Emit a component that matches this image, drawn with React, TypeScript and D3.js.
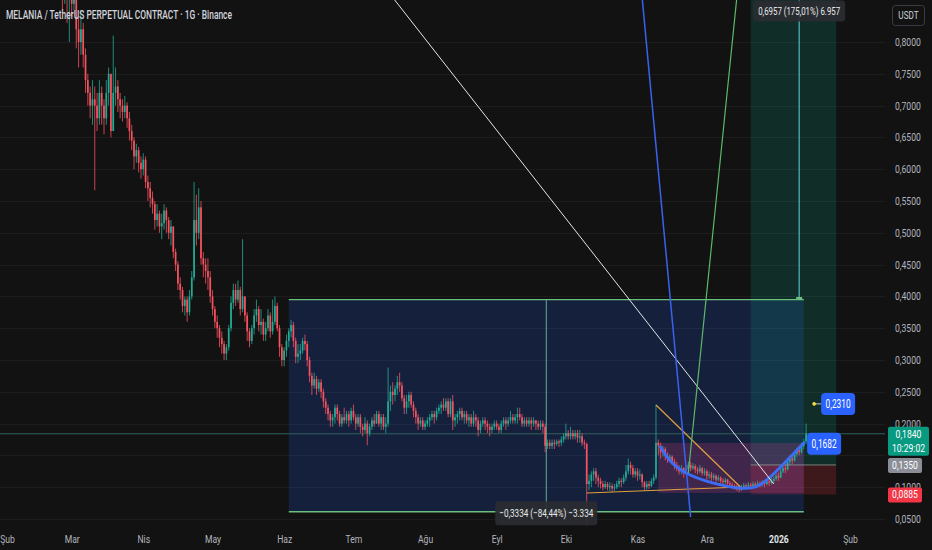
import { useEffect, useRef } from "react";
import * as d3 from "d3";

// [high, low, close] per daily candle; open is the previous close
type Bar = [number, number, number];

const FIRST_OPEN = 0.95;
const FIRST_DAY = Date.UTC(2025, 1, 24);
const DAY = 86400000;

const FEB_2025: Bar[] = [[.98, .90, .92], [.94, .85, .89], [.93, .86, .91], [.92, .83, .87], [.90, .80, .88]];
const MAR_2025: Bar[] = [
  [.91, .84, .86], [.93, .85, .90], [.91, .79, .82], [.84, .76, .80], [.85, .78, .82], [.83, .76, .78], [.79, .72, .74],
  [.75, .70, .72], [.73, .68, .70], [.74, .67, .71], [.73, .567, .70], [.72, .66, .68], [.74, .67, .72], [.73, .67, .70],
  [.71, .655, .68], [.74, .67, .72], [.76, .70, .75], [.75, .65, .66], [.81, .66, .72], [.76, .70, .73], [.74, .69, .71],
  [.72, .68, .70], [.71, .675, .69], [.715, .68, .70], [.705, .665, .68], [.69, .645, .66], [.67, .63, .645], [.65, .60, .62],
  [.64, .61, .63], [.635, .595, .61], [.62, .585, .60],
];
const APR_2025: Bar[] = [
  [.625, .59, .615], [.62, .57, .58], [.59, .55, .57], [.58, .54, .555], [.565, .53, .545], [.55, .505, .52], [.545, .51, .53],
  [.535, .50, .51], [.53, .49, .515], [.545, .505, .535], [.54, .50, .52], [.525, .49, .50], [.52, .48, .51], [.51, .46, .47],
  [.475, .44, .45], [.455, .41, .42], [.43, .395, .41], [.415, .375, .385], [.40, .37, .395], [.40, .36, .375], [.41, .37, .40],
  [.44, .395, .43], [.58, .425, .52], [.56, .48, .50], [.57, .49, .54], [.55, .45, .46], [.47, .43, .45], [.46, .42, .44],
  [.46, .41, .43], [.44, .39, .40],
];
const MAY_2025: Bar[] = [
  [.41, .37, .38], [.385, .35, .36], [.37, .335, .35], [.355, .32, .335], [.345, .31, .325], [.33, .30, .31], [.325, .30, .32],
  [.355, .315, .35], [.40, .345, .39], [.42, .38, .41], [.42, .385, .395], [.425, .39, .41], [.415, .37, .38], [.49, .375, .40],
  [.40, .36, .37], [.375, .33, .345], [.35, .32, .33], [.355, .325, .35], [.38, .34, .37], [.395, .36, .38], [.385, .345, .355],
  [.38, .34, .36], [.365, .33, .34], [.36, .33, .35], [.38, .345, .37], [.375, .335, .345], [.395, .34, .36], [.40, .355, .385],
  [.39, .345, .35], [.355, .305, .32], [.325, .29, .30],
];
const JUN_2025: Bar[] = [
  [.32, .29, .315], [.34, .305, .33], [.35, .32, .345], [.363, .335, .355], [.36, .32, .33], [.335, .295, .305], [.325, .295, .31],
  [.325, .30, .315], [.335, .31, .33], [.34, .315, .325], [.33, .29, .30], [.305, .265, .275], [.28, .245, .26], [.28, .255, .27],
  [.275, .245, .255], [.27, .25, .265], [.27, .24, .25], [.255, .225, .235], [.24, .215, .225], [.23, .205, .215], [.22, .195, .205],
  [.215, .195, .21], [.23, .20, .225], [.23, .205, .215], [.22, .195, .20], [.215, .195, .21], [.225, .20, .205], [.22, .20, .215],
  [.22, .195, .205], [.225, .20, .22],
];
const JUL_2025: Bar[] = [
  [.23, .205, .21], [.215, .19, .20], [.215, .195, .21], [.215, .185, .195], [.20, .18, .19], [.21, .185, .20], [.205, .166, .185],
  [.20, .18, .195], [.21, .19, .205], [.215, .195, .20], [.22, .20, .215], [.22, .195, .20], [.215, .19, .21], [.215, .19, .195],
  [.21, .185, .20], [.288, .195, .235], [.26, .22, .25], [.265, .23, .245], [.26, .235, .255], [.275, .245, .265], [.28, .25, .26],
  [.265, .235, .24], [.245, .215, .225], [.245, .215, .235], [.25, .225, .245], [.25, .225, .23], [.235, .21, .22], [.225, .20, .21],
  [.215, .19, .20], [.21, .195, .205], [.21, .19, .195],
];
const AUG_2025: Bar[] = [
  [.205, .19, .20], [.21, .195, .205], [.215, .195, .21], [.22, .205, .215], [.22, .20, .21], [.225, .205, .22], [.23, .215, .225],
  [.235, .215, .23], [.24, .22, .225], [.24, .22, .235], [.24, .21, .215], [.24, .21, .235], [.245, .19, .205], [.215, .195, .21],
  [.22, .20, .215], [.225, .205, .22], [.225, .205, .21], [.22, .20, .215], [.22, .20, .205], [.215, .195, .21], [.215, .195, .20],
  [.22, .195, .21], [.215, .195, .205], [.21, .18, .19], [.205, .185, .20], [.21, .195, .205], [.21, .19, .20], [.205, .185, .195],
  [.20, .18, .19], [.20, .185, .195], [.205, .19, .20],
];
const SEP_2025: Bar[] = [
  [.205, .19, .195], [.20, .185, .19], [.205, .185, .20], [.21, .195, .205], [.21, .19, .20], [.21, .195, .205], [.22, .20, .21],
  [.215, .20, .205], [.215, .20, .21], [.225, .20, .215], [.225, .205, .21], [.215, .195, .20], [.21, .195, .205], [.21, .195, .20],
  [.21, .195, .205], [.21, .19, .20], [.21, .195, .205], [.205, .19, .20], [.205, .19, .195], [.205, .19, .20], [.205, .185, .195],
  [.20, .155, .165], [.175, .16, .17], [.175, .16, .165], [.175, .16, .17], [.175, .16, .168], [.175, .165, .172], [.175, .163, .17],
  [.18, .165, .175], [.185, .17, .18],
];
const OCT_2025: Bar[] = [
  [.20, .175, .185], [.19, .175, .18], [.195, .175, .185], [.19, .175, .18], [.19, .175, .185], [.19, .17, .178], [.19, .17, .18],
  [.185, .165, .17], [.175, .16, .168], [.17, .04, .105], [.12, .095, .11], [.125, .10, .12], [.13, .11, .125], [.13, .105, .115],
  [.12, .10, .11], [.115, .098, .105], [.11, .095, .10], [.11, .097, .105], [.108, .095, .10], [.108, .094, .102], [.106, .092, .098],
  [.105, .094, .10], [.11, .097, .105], [.115, .10, .11], [.114, .10, .108], [.12, .105, .115], [.135, .11, .125], [.145, .12, .135],
  [.14, .12, .13], [.135, .115, .12], [.13, .115, .125],
];
const NOV_2025: Bar[] = [
  [.13, .11, .118], [.128, .112, .12], [.122, .10, .108], [.11, .094, .10], [.11, .096, .105], [.11, .097, .102], [.114, .10, .11],
  [.12, .105, .115], [.23, .112, .17], [.175, .15, .165], [.17, .145, .155], [.165, .148, .16], [.163, .142, .15], [.155, .138, .145],
  [.152, .14, .148], [.15, .135, .14], [.145, .128, .135], [.14, .125, .13], [.135, .12, .125], [.135, .12, .13], [.132, .115, .122],
  [.135, .12, .128], [.14, .125, .135], [.14, .125, .13], [.138, .127, .133], [.136, .122, .128], [.132, .12, .125], [.135, .122, .13],
  [.132, .118, .122], [.13, .118, .125],
];
const DEC_2025: Bar[] = [
  [.128, .112, .118], [.125, .113, .12], [.124, .11, .115], [.122, .111, .118], [.12, .108, .112], [.119, .109, .115], [.117, .106, .11],
  [.114, .104, .108], [.115, .105, .112], [.113, .102, .106], [.11, .10, .104], [.108, .098, .102], [.105, .096, .10], [.104, .094, .098],
  [.102, .092, .096], [.104, .094, .10], [.107, .097, .103], [.106, .097, .101], [.108, .099, .104], [.107, .098, .102], [.109, .10, .105],
  [.108, .099, .103], [.11, .10, .106], [.109, .10, .104], [.111, .101, .107], [.11, .10, .105], [.113, .103, .109], [.112, .102, .107],
  [.115, .104, .11], [.117, .106, .113], [.122, .11, .118],
];
const JAN_2026: Bar[] = [
  [.123, .11, .115], [.13, .114, .125], [.135, .122, .13], [.136, .122, .128], [.145, .126, .14], [.15, .135, .145], [.152, .136, .142],
  [.158, .14, .152], [.162, .148, .158], [.165, .15, .155], [.17, .153, .165], [.176, .16, .172], [.20, .168, .184],
];

const MONTH_TICKS = [
  Date.UTC(2025, 1, 1), Date.UTC(2025, 2, 1), Date.UTC(2025, 3, 1), Date.UTC(2025, 4, 1), Date.UTC(2025, 5, 1),
  Date.UTC(2025, 6, 1), Date.UTC(2025, 7, 1), Date.UTC(2025, 8, 1), Date.UTC(2025, 9, 1), Date.UTC(2025, 10, 1),
  Date.UTC(2025, 11, 1), Date.UTC(2026, 0, 1), Date.UTC(2026, 1, 1),
];
const MONTH_LABELS = ["Şub", "Mar", "Nis", "May", "Haz", "Tem", "Ağu", "Eyl", "Eki", "Kas", "Ara", "2026", "Şub"];

// drawing tools (dates + prices)
const RANGE_DATES = [Date.UTC(2025, 5, 3), Date.UTC(2026, 0, 12)];
const RANGE_PRICES = [0.3948, 0.0614];
const LONG_DATES = [Date.UTC(2025, 11, 20), Date.UTC(2026, 0, 26)];
const LONG_PRICES = { target: 0.95, entry: 0.135, stop: 0.0885 };
const MEASURE_DATE = Date.UTC(2026, 0, 10);
const MEASURE_PRICES = [0.3975, 1.0932];
const ZONE_DATES = [Date.UTC(2025, 10, 10), Date.UTC(2026, 0, 12)];
const ZONE_PRICES = [0.1695, 0.0909];
const WHITE_LINE: [number, number][] = [[Date.UTC(2025, 6, 18), 0.87], [Date.UTC(2025, 11, 30), 0.105]];
const BLUE_LINE: [number, number][] = [[Date.UTC(2025, 10, 3), 0.87], [Date.UTC(2025, 10, 24), 0.053]];
const GREEN_LINE: [number, number][] = [[Date.UTC(2025, 11, 14), 0.87], [Date.UTC(2025, 10, 23), 0.1223]];
const ORANGE_DOWN: [number, number][] = [[Date.UTC(2025, 10, 9), 0.2293], [Date.UTC(2025, 11, 16), 0.0987]];
const ORANGE_BASE: [number, number][] = [[Date.UTC(2025, 9, 10), 0.0909], [Date.UTC(2025, 11, 16), 0.1003]];
const ARC_POINTS: [number, number][] = [
  [Date.UTC(2025, 10, 11), 0.1632], [Date.UTC(2025, 10, 22), 0.1223], [Date.UTC(2025, 11, 15), 0.0987],
  [Date.UTC(2025, 11, 28), 0.1145], [Date.UTC(2026, 0, 12), 0.1695],
];
const LAST_PRICE = 0.184;
const LAST_TIME = "10:29:02";
const LABEL_PRICES = [0.1682, 0.231];
const HIDDEN_TICKS = [0.15];
const TITLE = "MELANIA / TetherUS PERPETUAL CONTRACT · 1G · Binance";
const TOP_LABEL = "0,6957 (175,01%) 6.957";
const BOTTOM_LABEL = "−0,3334 (−84,44%) −3.334";

const FONT = "Roboto, 'Noto Sans', sans-serif";

function fmt(v: number): string {
  return d3.format(".4f")(v).replace(".", ",");
}

export default function App() {
  const ref = useRef<SVGSVGElement>(null);

  useEffect(() => {
    if (!ref.current) return;
    const W = 932;
    const H = 550;
    const plotR = 885;
    const plotB = 528;

    const svg = d3.select(ref.current);
    svg.selectAll("*").remove();
    svg.style("font-family", FONT);

    const x = d3.scaleUtc().domain([MONTH_TICKS[0], MONTH_TICKS[12]]).range([7, 850]);
    const y = d3.scaleLinear().domain([0.05, 0.8]).range([519, 42]);

    const bars = [FEB_2025, MAR_2025, APR_2025, MAY_2025, JUN_2025, JUL_2025, AUG_2025, SEP_2025, OCT_2025, NOV_2025, DEC_2025, JAN_2026].flat();
    const candles = bars.map((b, i) => ({
      date: FIRST_DAY + i * DAY,
      open: i === 0 ? FIRST_OPEN : bars[i - 1][2],
      high: b[0],
      low: b[1],
      close: b[2],
    }));

    svg.append("rect").attr("width", W).attr("height", H).attr("fill", "#121212");

    svg.append("defs").append("clipPath").attr("id", "plot")
      .append("rect").attr("width", plotR).attr("height", plotB);

    const plot = svg.append("g").attr("clip-path", "url(#plot)");

    // grid
    plot.selectAll(".grid").data(y.ticks(15)).join("line")
      .attr("x1", 0).attr("x2", plotR)
      .attr("y1", (d) => Math.round(y(d)) + 0.5).attr("y2", (d) => Math.round(y(d)) + 0.5)
      .attr("stroke", "#1d1d1d");

    // date & price range box
    const rx0 = x(RANGE_DATES[0]);
    const rx1 = x(RANGE_DATES[1]);
    plot.append("rect")
      .attr("x", rx0).attr("y", y(RANGE_PRICES[0]))
      .attr("width", rx1 - rx0).attr("height", y(RANGE_PRICES[1]) - y(RANGE_PRICES[0]))
      .attr("fill", "rgba(41,98,255,0.18)");

    // long position
    const lx0 = x(LONG_DATES[0]);
    const lx1 = x(LONG_DATES[1]);
    plot.append("rect")
      .attr("x", lx0).attr("y", y(LONG_PRICES.target))
      .attr("width", lx1 - lx0).attr("height", y(LONG_PRICES.entry) - y(LONG_PRICES.target))
      .attr("fill", "rgba(8,153,129,0.2)");
    plot.append("rect")
      .attr("x", lx0).attr("y", y(LONG_PRICES.entry))
      .attr("width", lx1 - lx0).attr("height", y(LONG_PRICES.stop) - y(LONG_PRICES.entry))
      .attr("fill", "rgba(242,54,69,0.2)");

    // pink zone
    plot.append("rect")
      .attr("x", x(ZONE_DATES[0])).attr("y", y(ZONE_PRICES[0]))
      .attr("width", x(ZONE_DATES[1]) - x(ZONE_DATES[0])).attr("height", y(ZONE_PRICES[1]) - y(ZONE_PRICES[0]))
      .attr("fill", "rgba(220,60,130,0.22)");

    // last price line
    plot.append("line")
      .attr("x1", 0).attr("x2", plotR)
      .attr("y1", y(LAST_PRICE)).attr("y2", y(LAST_PRICE))
      .attr("stroke", "#2f615a").attr("stroke-width", 1);

    // candles
    const up = "#22ab94";
    const down = "#f7525f";
    const cg = plot.append("g");
    cg.selectAll(".wick").data(candles).join("line")
      .attr("x1", (d) => x(d.date)).attr("x2", (d) => x(d.date))
      .attr("y1", (d) => y(d.high)).attr("y2", (d) => y(d.low))
      .attr("stroke", (d) => (d.close >= d.open ? up : down))
      .attr("stroke-width", 0.8);
    cg.selectAll(".body").data(candles).join("rect")
      .attr("x", (d) => x(d.date) - 0.85)
      .attr("y", (d) => y(Math.max(d.open, d.close)))
      .attr("width", 1.7)
      .attr("height", (d) => Math.max(0.8, Math.abs(y(d.open) - y(d.close))))
      .attr("fill", (d) => (d.close >= d.open ? up : down));

    // entry line of long position
    plot.append("line")
      .attr("x1", lx0).attr("x2", lx1)
      .attr("y1", y(LONG_PRICES.entry)).attr("y2", y(LONG_PRICES.entry))
      .attr("stroke", "#8f9a97").attr("stroke-width", 1).attr("opacity", 0.8);

    const seg = d3.line<[number, number]>().x((d) => x(d[0])).y((d) => y(d[1]));

    plot.append("path").attr("d", seg(ORANGE_BASE)).attr("stroke", "#e0a040").attr("stroke-width", 1.2).attr("fill", "none");
    plot.append("path").attr("d", seg(ORANGE_DOWN)).attr("stroke", "#e0a040").attr("stroke-width", 1.2).attr("fill", "none");

    const arc = d3.line<[number, number]>().x((d) => x(d[0])).y((d) => y(d[1])).curve(d3.curveNatural);
    plot.append("path").attr("d", arc(ARC_POINTS)).attr("stroke", "#3d6cf5").attr("stroke-width", 3)
      .attr("fill", "none").attr("stroke-linecap", "round");

    // range box borders
    const rangeStroke = "#6cc07e";
    [RANGE_PRICES[0], RANGE_PRICES[1]].forEach((p) => {
      plot.append("line").attr("x1", rx0).attr("x2", rx1).attr("y1", y(p)).attr("y2", y(p))
        .attr("stroke", rangeStroke).attr("stroke-width", 1.3);
    });
    plot.append("line")
      .attr("x1", (rx0 + rx1) / 2).attr("x2", (rx0 + rx1) / 2)
      .attr("y1", y(RANGE_PRICES[0])).attr("y2", y(RANGE_PRICES[1]))
      .attr("stroke", "#5fae95").attr("stroke-width", 1);

    plot.append("path").attr("d", seg(WHITE_LINE)).attr("stroke", "#e6e6e6").attr("stroke-width", 1).attr("fill", "none");
    plot.append("path").attr("d", seg(BLUE_LINE)).attr("stroke", "#3a62f0").attr("stroke-width", 1.5).attr("fill", "none");
    plot.append("path").attr("d", seg(GREEN_LINE)).attr("stroke", "#5cb86a").attr("stroke-width", 1.2).attr("fill", "none");

    // measure line
    const mx = x(MEASURE_DATE);
    plot.append("line")
      .attr("x1", mx).attr("x2", mx)
      .attr("y1", y(MEASURE_PRICES[0])).attr("y2", y(MEASURE_PRICES[1]))
      .attr("stroke", "#4fb8c0").attr("stroke-width", 1.2);
    plot.append("line")
      .attr("x1", mx - 3).attr("x2", mx + 3)
      .attr("y1", y(MEASURE_PRICES[0])).attr("y2", y(MEASURE_PRICES[0]))
      .attr("stroke", "#6cc07e").attr("stroke-width", 2);

    // tool labels
    const labelBox = (cx: number, cy: number, w: number, h: number, text: string, tw: number) => {
      plot.append("rect").attr("x", cx - w / 2).attr("y", cy - h / 2).attr("width", w).attr("height", h)
        .attr("rx", 3).attr("fill", "rgba(42,44,50,0.92)");
      plot.append("text").attr("x", cx).attr("y", cy).attr("dy", "0.35em").attr("data-w", tw)
        .attr("text-anchor", "middle").attr("fill", "#e8e8e8").attr("font-size", 11.5).text(text);
    };
    labelBox(mx, 11, 92, 21, TOP_LABEL, 82);
    labelBox((rx0 + rx1) / 2, y(RANGE_PRICES[1]) + 1.5, 102, 24, BOTTOM_LABEL, 94);

    // blue price labels
    const lastX = x(candles[candles.length - 1].date);
    const blueLabel = (left: number, price: number) => {
      plot.append("rect").attr("x", left).attr("y", y(price) - 11).attr("width", 34).attr("height", 22)
        .attr("rx", 4).attr("fill", "#2962ff");
      plot.append("text").attr("x", left + 17).attr("y", y(price)).attr("dy", "0.35em").attr("data-w", 25)
        .attr("text-anchor", "middle").attr("fill", "#ffffff").attr("font-size", 12.5).text(fmt(price));
    };
    blueLabel(lastX + 1, LABEL_PRICES[0]);
    plot.append("line").attr("x1", lastX + 8).attr("x2", lastX + 15)
      .attr("y1", y(LABEL_PRICES[1])).attr("y2", y(LABEL_PRICES[1])).attr("stroke", "#c9c9c9").attr("stroke-width", 1);
    plot.append("circle").attr("cx", lastX + 8).attr("cy", y(LABEL_PRICES[1])).attr("r", 1.8).attr("fill", "#f5e23c");
    blueLabel(lastX + 15, LABEL_PRICES[1]);

    // title
    svg.append("text").attr("x", 6).attr("y", 19).attr("fill", "#d1d4dc").attr("font-size", 12)
      .attr("font-weight", 500).attr("data-w", 226).text(TITLE);

    // right price axis
    const priceTicks = y.ticks(15).filter((t) => !HIDDEN_TICKS.some((h) => Math.abs(h - t) < 1e-9));
    svg.append("g")
      .attr("transform", `translate(${plotR},0)`)
      .call(d3.axisRight(y).tickValues(priceTicks).tickSize(0).tickPadding(10).tickFormat((d) => fmt(d as number)))
      .call((g) => g.select(".domain").remove())
      .call((g) => g.selectAll(".tick text").attr("fill", "#b2b5be").attr("font-size", 11).style("font-family", FONT));

    // bottom time axis
    svg.append("g")
      .attr("transform", `translate(0,${plotB})`)
      .call(d3.axisBottom(x).tickValues(MONTH_TICKS.map((t) => new Date(t))).tickSize(0).tickPadding(7)
        .tickFormat((_, i) => MONTH_LABELS[i]))
      .call((g) => g.select(".domain").remove())
      .call((g) => g.selectAll(".tick text")
        .attr("fill", (_, i) => (i === 11 ? "#e0e3eb" : "#b2b5be"))
        .attr("font-weight", (_, i) => (i === 11 ? 700 : 400))
        .attr("font-size", 11).style("font-family", FONT));

    // USDT box
    svg.append("rect").attr("x", 892.5).attr("y", 5.5).attr("width", 32).attr("height", 20).attr("rx", 3)
      .attr("fill", "#121212").attr("stroke", "#3a3d45");
    svg.append("text").attr("x", 908.5).attr("y", 15.5).attr("dy", "0.35em").attr("text-anchor", "middle")
      .attr("fill", "#d1d4dc").attr("font-size", 10.5).text("USDT");

    // right axis price tags
    const tag = (price: number, fill: string, h: number, lines: string[], w: number) => {
      const top = y(price) - 7;
      svg.append("rect").attr("x", 888).attr("y", top).attr("width", w).attr("height", h).attr("rx", 2).attr("fill", fill);
      lines.forEach((t, i) => {
        svg.append("text").attr("x", 888 + w / 2).attr("y", top + 7 + i * 14).attr("dy", "0.35em")
          .attr("text-anchor", "middle").attr("fill", "#ffffff").attr("font-size", 11).text(t);
      });
    };
    tag(LAST_PRICE, "#089981", 29, [fmt(LAST_PRICE), LAST_TIME], 41);
    tag(LONG_PRICES.entry, "#8b8e96", 15, [fmt(LONG_PRICES.entry)], 34);
    tag(LONG_PRICES.stop, "#f23645", 15, [fmt(LONG_PRICES.stop)], 34);

    // the reference uses a narrow UI font: squeeze every text horizontally
    svg.selectAll<SVGTextElement, unknown>("text").each(function () {
      const natural = this.getComputedTextLength();
      const wanted = this.getAttribute("data-w");
      const target = wanted ? Math.min(natural, +wanted) : natural * 0.78;
      this.setAttribute("textLength", String(target));
      this.setAttribute("lengthAdjust", "spacingAndGlyphs");
    });
  }, []);

  return (
    <svg
      ref={ref}
      width={932}
      height={550}
      style={{ position: "absolute", left: 0, top: 0, display: "block" }}
    />
  );
}
